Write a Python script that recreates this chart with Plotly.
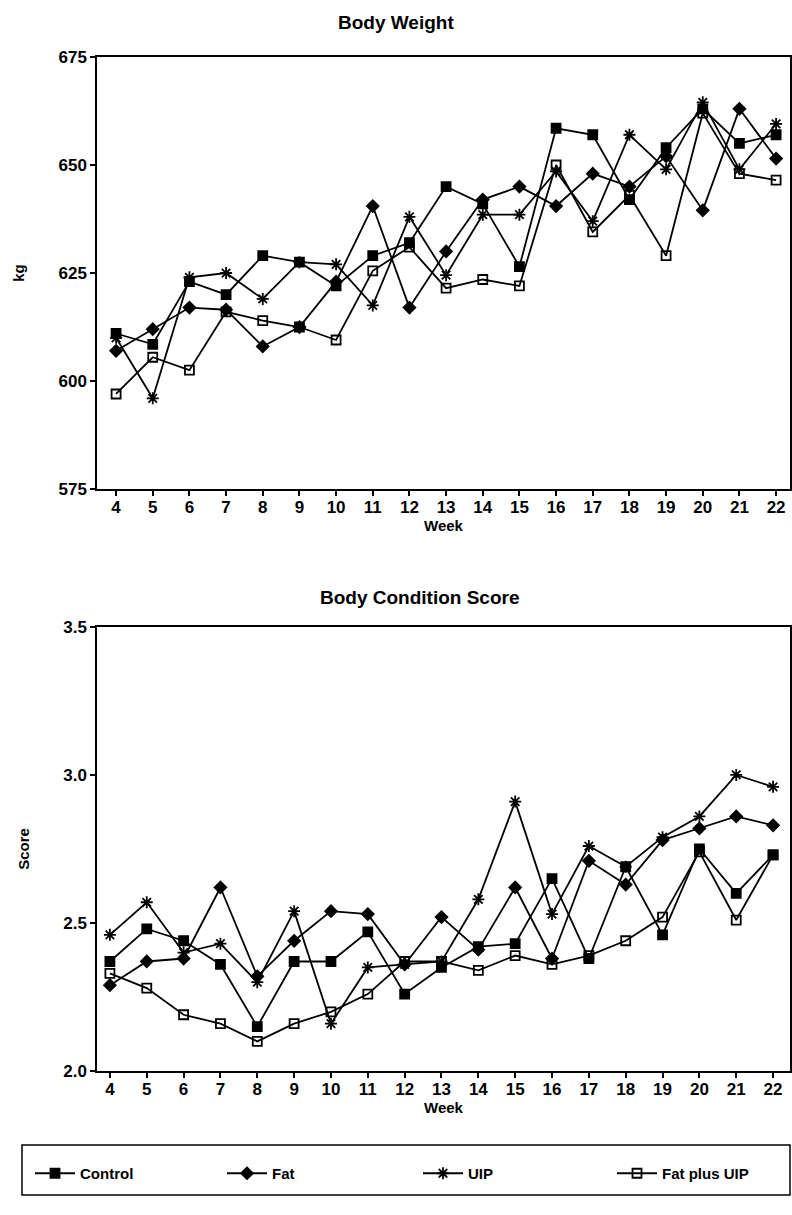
import plotly.graph_objects as go

weeks = list(range(4, 23))
week_labels = [str(w) for w in weeks]

# Body weight (kg)
bw_control = [611, 608.5, 623, 620, 629, 627.5, 622, 629, 632, 645, 641, 626.5, 658.5, 657, 642, 654, 663, 655, 657]
bw_fat = [607, 612, 617, 616.5, 608, 612.5, 623, 640.5, 617, 630, 642, 645, 640.5, 648, 645, 652, 639.5, 663, 651.5]
bw_uip = [610, 596, 624, 625, 619, 627.5, 627, 617.5, 638, 624.5, 638.5, 638.5, 648.5, 637, 657, 649, 664.5, 649, 659.5]
bw_fatuip = [597, 605.5, 602.5, 616, 614, 612.5, 609.5, 625.5, 631, 621.5, 623.5, 622, 650, 634.5, 643, 629, 662, 648, 646.5]

# Body condition score
bcs_control = [2.37, 2.48, 2.44, 2.36, 2.15, 2.37, 2.37, 2.47, 2.26, 2.35, 2.42, 2.43, 2.65, 2.38, 2.69, 2.46, 2.75, 2.60, 2.73]
bcs_fat = [2.29, 2.37, 2.38, 2.62, 2.32, 2.44, 2.54, 2.53, 2.36, 2.52, 2.41, 2.62, 2.38, 2.71, 2.63, 2.78, 2.82, 2.86, 2.83]
bcs_uip = [2.46, 2.57, 2.40, 2.43, 2.30, 2.54, 2.16, 2.35, 2.36, 2.37, 2.58, 2.91, 2.53, 2.76, 2.69, 2.79, 2.86, 3.00, 2.96]
bcs_fatuip = [2.33, 2.28, 2.19, 2.16, 2.10, 2.16, 2.20, 2.26, 2.37, 2.37, 2.34, 2.39, 2.36, 2.39, 2.44, 2.52, 2.74, 2.51, 2.73]

series_names = ["Control", "Fat", "UIP", "Fat plus UIP"]
symbols = ["square", "diamond", "asterisk-open", "square-open"]
sizes = [9, 9, 10, 9]
legend_ids = ["legend", "legend2", "legend3", "legend4"]
legend_x_px = [30, 222, 418, 612]

FONT = "Liberation Sans"

fig = go.Figure()

bw_all = [bw_control, bw_fat, bw_uip, bw_fatuip]
bcs_all = [bcs_control, bcs_fat, bcs_uip, bcs_fatuip]

for i, name in enumerate(series_names):
    fig.add_trace(go.Scatter(
        x=weeks, y=bw_all[i], name=name, mode="lines+markers",
        line=dict(color="black", width=1.8),
        marker=dict(symbol=symbols[i], size=sizes[i], color="black",
                    line=dict(color="black", width=1.8)),
        xaxis="x", yaxis="y", showlegend=True, legend=legend_ids[i],
    ))
for i, name in enumerate(series_names):
    fig.add_trace(go.Scatter(
        x=weeks, y=bcs_all[i], name=name, mode="lines+markers",
        line=dict(color="black", width=1.8),
        marker=dict(symbol=symbols[i], size=sizes[i], color="black",
                    line=dict(color="black", width=1.8)),
        xaxis="x2", yaxis="y2", showlegend=False,
    ))

tickfont = dict(family=FONT, size=17, color="black", weight="bold")
titlefont = dict(family=FONT, size=15, color="black", weight="bold")

axis_common = dict(showline=True, linecolor="black", linewidth=1.5, mirror=True,
                   ticks="outside", ticklen=5, tickcolor="black", tickwidth=1.5,
                   showgrid=False, zeroline=False, tickfont=tickfont, automargin=False)

legend_font = dict(family=FONT, size=15, color="black", weight="bold")
legends = {}
for i, lid in enumerate(legend_ids):
    legends[lid] = dict(orientation="h", x=legend_x_px[i] / 792, y=1 - 1157 / 1215,
                        xref="container", yref="container",
                        xanchor="left", yanchor="top", itemwidth=40,
                        font=legend_font, bgcolor="rgba(0,0,0,0)", borderwidth=0)

fig.update_layout(
    width=792, height=1215,
    margin=dict(l=0, r=0, t=0, b=0, autoexpand=False),
    paper_bgcolor="white", plot_bgcolor="white",
    xaxis=dict(domain=[0.1225, 0.9975], anchor="y", range=[3.48, 22.38],
               tickmode="array", tickvals=weeks, ticktext=week_labels,
               ticklabelstandoff=-3,
               title=dict(text="Week", font=titlefont, standoff=0), **axis_common),
    yaxis=dict(domain=[0.5975, 0.9531], anchor="x", range=[575, 675],
               tickvals=[575, 600, 625, 650, 675],
               title=dict(text="kg", font=titlefont, standoff=30), **axis_common),
    xaxis2=dict(domain=[0.1225, 0.9975], anchor="y2", range=[3.65, 22.46],
                tickmode="array", tickvals=weeks, ticktext=week_labels,
                ticklabelstandoff=-3,
                title=dict(text="Week", font=titlefont, standoff=3), **axis_common),
    yaxis2=dict(domain=[0.1185, 0.484], anchor="x2", range=[2.0, 3.5],
                tickvals=[2.0, 2.5, 3.0, 3.5], tickformat=".1f",
                title=dict(text="Score", font=titlefont, standoff=30), **axis_common),
    annotations=[
        dict(text="Body Weight", x=0.5, y=1 - 22 / 1215, xref="paper", yref="paper",
             xanchor="center", yanchor="middle", showarrow=False,
             font=dict(family=FONT, size=19, color="black", weight="bold")),
        dict(text="Body Condition Score", x=0.53, y=1 - 597 / 1215, xref="paper", yref="paper",
             xanchor="center", yanchor="middle", showarrow=False,
             font=dict(family=FONT, size=19, color="black", weight="bold")),
    ],
    shapes=[
        dict(type="rect", xref="paper", yref="paper",
             x0=22 / 792, x1=790 / 792, y0=1 - 1195 / 1215, y1=1 - 1145 / 1215,
             line=dict(color="black", width=1.5), fillcolor="rgba(0,0,0,0)"),
    ],
    **legends,
)

fig.write_html("out.html", config={"displayModeBar": False},
               post_script="document.body.style.margin='0px';document.body.style.overflow='hidden';")
